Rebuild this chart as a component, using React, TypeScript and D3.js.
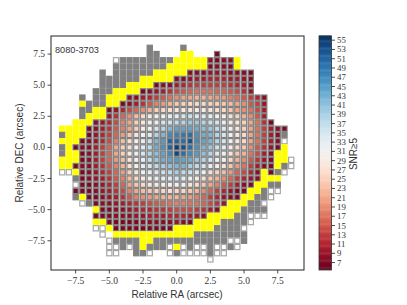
import React from "react";
import * as d3 from "d3";

const title = "8080-3703";
const xTicks = [-7.5, -5, -2.5, 0, 2.5, 5, 7.5];
const yTicks = [-7.5, -5, -2.5, 0, 2.5, 5, 7.5];
const cbTicks = d3.range(7, 56, 2);
const raStart = -8.5;
const decStart = 8;

// One row per DEC step (top to bottom), one token per RA step (left to right).
// "." no spaxel, g = grey, y = yellow, w = white, number = SNR
const rows = [
  ". . . . .  . . . . .  . . . g .  . . . g .  . . . . .  . . . . .  . . . . .",
  ". . . . .  . . . . .  . . . g g  . . . y y  . . . 7 .  . . . . .  . . . . .",
  ". . . . .  . . . w g  g g g g g  g g y y y  y y 8 7 8  8 y . . .  . . . . .",
  ". . . . .  . . . g g  g g g g g  g y y y y  y y 7 8 8  7 y . . .  . . . . .",
  ". . . . .  . g . g g  g g g g y  y y y y 8  8 8 9 9 9  8 8 8 7 .  . . . . .",
  ". . . . .  . g g g g  g g y y y  y y 8 8 9  10 10 11 11 11  10 10 9 8 .  . . . . .",
  ". . . . .  . g g g g  y y y y 7  8 8 10 11 12  13 13 13 13 13  12 11 10 8 .  . . . . .",
  ". . . . .  g g g y y  y y 7 8 9  10 12 14 15 16  17 17 17 16 16  15 14 12 9 .  . . . . .",
  ". . . g .  g g y y y  8 8 10 11 13  15 17 19 21 21  22 22 21 20 20  18 17 15 13 11  8 . . . .",
  ". . . y g  g g y y 7  8 10 12 15 18  20 22 24 25 26  26 26 25 25 24  23 21 19 15 13  9 . . . .",
  ". . . g g  y y 7 9 11  14 16 19 22 25  26 27 28 29 28  29 29 28 27 26  24 21 19 17 14  10 . . . .",
  ". . . g y  y y 9 12 16  19 23 26 29 31  31 33 33 35 36  34 34 33 31 30  27 25 22 19 15  10 . . . .",
  ". . y y y  8 9 11 14 18  21 25 28 30 32  35 36 37 38 40  40 38 36 35 32  29 28 25 21 17  12 7 . . .",
  "y y y y 7  8 10 12 15 18  21 25 29 31 35  38 42 44 44 44  43 41 40 37 34  30 28 25 21 17  13 10 8 7 .",
  "g y y y 7  9 11 13 16 20  24 28 31 33 38  42 47 48 49 50  46 43 42 38 35  31 28 26 21 17  13 10 8 g .",
  "y y y 7 8  9 11 14 18 23  27 30 33 36 42  45 51 51 50 53  47 44 42 38 35  31 28 26 21 17  13 10 8 w .",
  "g y 7 8 8  10 13 16 21 25  27 31 34 37 43  46 51 55 53 50  46 42 40 36 33  29 26 24 19 15  12 9 7 y .",
  "g y y 7 8  10 13 16 21 25  29 32 35 38 41  44 47 54 50 47  45 41 38 34 31  28 24 22 17 14  10 8 y y .",
  "y y y 7 8  10 13 16 20 23  28 31 33 37 40  43 44 45 44 43  40 38 35 32 30  26 22 19 15 12  9 7 y y w",
  "y y 7 8 8  10 12 15 18 22  27 30 33 35 37  39 41 42 42 39  37 35 32 29 27  24 20 17 13 10  8 7 y g w",
  "w w y 7 8  9 11 13 16 20  25 28 31 33 34  36 37 39 37 36  34 31 27 25 23  20 16 14 11 8  y 7 g w .",
  ". . g 7 8  9 10 12 15 18  23 26 29 30 32  33 34 35 33 31  29 27 24 22 19  16 13 11 9 8  y y y . .",
  ". . w 7 7  8 9 11 13 16  21 24 26 28 29  30 30 31 30 28  26 24 21 18 15  13 10 8 7 y  y g g . .",
  ". . 7 7 7  8 9 10 12 14  18 21 23 24 25  26 27 26 26 24  22 19 16 13 11  9 7 7 y y  g w w . .",
  ". . g y 7  7 8 9 10 12  15 18 19 20 21  22 22 22 21 20  18 16 13 11 9  8 7 y y g  g w . . .",
  ". . . w g  7 8 8 9 10  11 12 13 14 15  16 17 18 18 17  17 16 14 12 9  y y y g g  w . . . .",
  ". . . . .  y 7 7 8 8  9 10 11 11 12  12 13 14 14 14  13 12 10 8 y  y y g g g  g . . . .",
  ". . . . .  7 7 7 8 8  8 9 9 10 10  10 11 11 11 10  10 8 y y y  y g g w w  w . . . .",
  ". . . . .  y y 7 7 7  7 7 8 8 8  8 8 9 8 7  y y y y g  g g g w .  . . . . .",
  ". . . . .  w w y 7 7  7 7 7 7 7  7 7 y y y  y y y g g  g g w . .  . . . . .",
  ". . . . .  . w . y y  y y y y y  y y y y y  g g g g g  g g g . .  . . . . .",
  ". . . . .  . . w g g  g g y y g  g g g g g  g g g g g  w w g . .  . . . . .",
  ". . . . .  . . w w g  w g y g g  g w y w g  w w g w w  g w . . .  . . . . .",
  ". . . . .  . . w w .  . g g w .  . w g w w  w w g w w  . . . . .  . . . . .",
  ". . . . .  . . . . .  . . . . .  . . . . .  . . w . .  . . . . .  . . . . .",
];

const W = 407;
const H = 305;
const serif = "'Liberation Serif', serif";
const sans = "'Liberation Sans', sans-serif";

export default function App() {
  const x = d3.scaleLinear().domain([-9.33, 9.45]).range([51, 304]);
  const y = d3.scaleLinear().domain([-9.85, 8.95]).range([270, 36]);
  const cbY = d3.scaleLinear().domain([5.4, 55.9]).range([270, 36]);
  const color = d3.scaleSequential(d3.interpolateRdBu).domain([5.5, 56]);
  const box = 5.2;
  const cells: { ra: number; dec: number; t: string }[] = [];
  rows.forEach((r, i) =>
    r.trim().split(/\s+/).forEach((t, j) => {
      if (t !== ".") cells.push({ ra: raStart + j * 0.5, dec: decStart - i * 0.5, t });
    })
  );
  const levels = d3.range(5.5, 55.9, 0.25);
  const fmt = (v: number) => (v < 0 ? "\u2212" : "") + Math.abs(v).toFixed(1);
  return (
    <svg width={W} height={H} style={{ position: "absolute", left: 0, top: 0, background: "#fff" }}>
      {cells.map((c, i) => {
        const fill = c.t === "g" ? "#808080" : c.t === "y" ? "#ffff00" : c.t === "w" ? "#ffffff" : color(+c.t);
        const stroke = c.t === "y" ? "#ffff00" : c.t === "w" ? "#a6a6a6" : "#808080";
        return (
          <rect key={i} x={x(c.ra) - box / 2} y={y(c.dec) - box / 2} width={box} height={box}
            fill={fill} stroke={stroke} strokeWidth={1.2} />
        );
      })}
      <rect x={51} y={36} width={253} height={234} fill="none" stroke="#222" strokeWidth={1} />
      {xTicks.map((t) => (
        <g key={t}>
          <line x1={x(t)} x2={x(t)} y1={270} y2={273.5} stroke="#222" strokeWidth={0.8} />
          <text x={x(t)} y={284} textAnchor="middle" fontFamily={serif} fontSize={9.5} fill="#333">{fmt(t)}</text>
        </g>
      ))}
      {yTicks.map((t) => (
        <g key={t}>
          <line x1={47.5} x2={51} y1={y(t)} y2={y(t)} stroke="#222" strokeWidth={0.8} />
          <text x={45} y={y(t) + 3} textAnchor="end" fontFamily={serif} fontSize={9.5} fill="#333">{fmt(t)}</text>
        </g>
      ))}
      <text x={177} y={297.5} textAnchor="middle" fontFamily={sans} fontSize={10} fill="#333">Relative RA (arcsec)</text>
      <text transform="translate(23,153) rotate(-90)" textAnchor="middle" fontFamily={sans} fontSize={10} fill="#333">Relative DEC (arcsec)</text>
      <text x={55} y={53} fontFamily={sans} fontSize={9.2} fill="#333">{title}</text>
      {levels.map((v) => (
        <rect key={v} x={319} y={cbY(v + 0.25)} width={12.5} height={Math.abs(cbY(v) - cbY(v + 0.25)) + 0.4}
          fill={color(v)} />
      ))}
      <rect x={319} y={36} width={12.5} height={234} fill="none" stroke="#333" strokeWidth={0.8} />
      {cbTicks.map((t) => (
        <g key={t}>
          <line x1={331.5} x2={335} y1={cbY(t)} y2={cbY(t)} stroke="#222" strokeWidth={0.8} />
          <text x={337} y={cbY(t) + 3} fontFamily={serif} fontSize={8.8} fill="#333">{t}</text>
        </g>
      ))}
      <text transform="translate(357,154) rotate(-90)" textAnchor="middle" fontFamily={sans} fontSize={10} fill="#333">{"SNR\u22655"}</text>
    </svg>
  );
}
